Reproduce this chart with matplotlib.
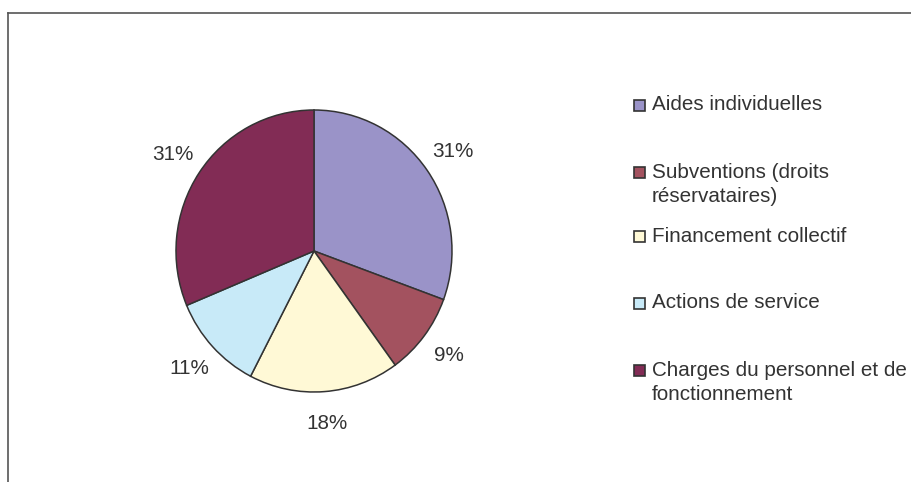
import matplotlib
matplotlib.use('Agg')
import matplotlib.pyplot as plt
import matplotlib.patches as mpatches
from matplotlib.lines import Line2D

plt.rcParams['font.family'] = ['Liberation Sans', 'DejaVu Sans']

# data (percent shares)
categories = ['Aides individuelles', 'Subventions (droits\nréservataires)',
              'Financement collectif', 'Actions de service',
              'Charges du personnel et de\nfonctionnement']
shares = [30.6, 9.4, 17.6, 11.1, 31.3]
colors = ['#9A93C8', '#A3525F', '#FFF9D6', '#C8EAF8', '#822C55']

W, H = 911, 482
fs = 14.9
fig = plt.figure(figsize=(W / 100, H / 100), dpi=100)

# frame around chart area
fig.add_artist(Line2D([8 / W, 1], [1 - 13 / H, 1 - 13 / H], color='#555555', lw=1.2))
fig.add_artist(Line2D([8 / W, 8 / W], [0, 1 - 13 / H], color='#555555', lw=1.2))

# pie axes
cx, cy, rx, ry = 314, 251, 138, 141
ax = fig.add_axes([(cx - rx) / W, (H - cy - ry) / H, 2 * rx / W, 2 * ry / H])
wedges, texts, autotexts = ax.pie(shares, colors=colors, startangle=90, counterclock=False,
                                  autopct='%1.0f%%', pctdistance=1.23,
                                  wedgeprops=dict(edgecolor='#333333', linewidth=1.1))
for t in autotexts:
    t.set_fontsize(fs)
    t.set_color('#333333')
ax.set_aspect('auto')
ax.set_xlim(-1, 1)
ax.set_ylim(-1, 1)
ax.axis('off')

# legend, drawn by hand to keep the uneven spacing
leg_y = [105, 172, 236, 303, 370]
for lab, col, y in zip(categories, colors, leg_y):
    fig.add_artist(mpatches.Rectangle((634 / W, 1 - (y + 6) / H), 11 / W, 11 / H,
                                      facecolor=col, edgecolor='#333333', lw=1.2,
                                      transform=fig.transFigure))
    for i, line in enumerate(lab.split('\n')):
        fig.text(652 / W, 1 - (y + 25 * i) / H, line, fontsize=fs, color='#333333',
                 va='center', ha='left')

fig.savefig('out.png', dpi=100)
